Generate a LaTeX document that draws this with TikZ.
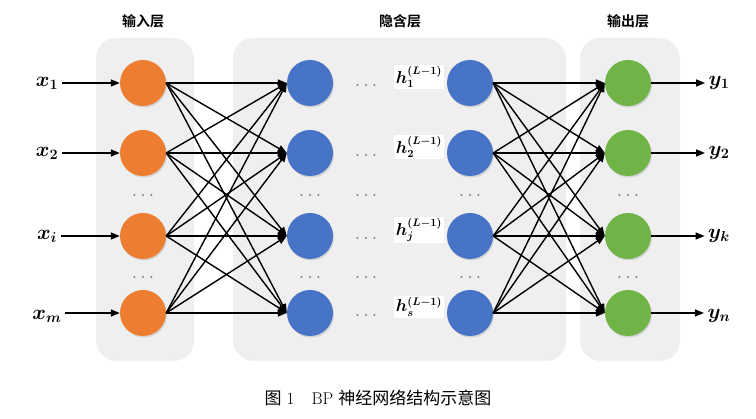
\documentclass[tikz,border=0pt]{standalone}
\usepackage{amsmath, amssymb}
\usepackage{fontspec}
\usepackage{tikz}
\usetikzlibrary{arrows.meta, positioning, shadows}
\newfontfamily\cjkfont{Noto Sans CJK SC}
\newfontfamily\cjkbold{Noto Sans CJK SC Bold}
\definecolor{panelgray}{RGB}{239,239,240}
\definecolor{inorange}{RGB}{237,125,49}
\definecolor{hidblue}{RGB}{72,116,200}
\definecolor{outgreen}{RGB}{112,180,72}
\definecolor{dotgray}{RGB}{105,105,110}

\newcommand{\rowdots}{$\boldsymbol{\cdot}\,\boldsymbol{\cdot}\,\boldsymbol{\cdot}$}

\tikzset{
  panel/.style={fill=panelgray, rounded corners=20pt, draw=none,
    drop shadow={opacity=0.12, shadow xshift=1pt, shadow yshift=-1pt}},
  neuron/.style={circle, minimum size=46pt, inner sep=0pt, draw=none,
    drop shadow={opacity=0.25, shadow xshift=1pt, shadow yshift=-1.5pt}},
  link/.style={-{Triangle[length=9pt, width=7pt]}, line width=1.4pt, black},
  iolabel/.style={font=\fontsize{22}{24}\selectfont},
  hlabel/.style={fill=white, inner sep=1.5pt, font=\fontsize{16}{18}\selectfont},
  layertitle/.style={font=\cjkbold\fontsize{14}{16}\selectfont},
  more/.style={font=\fontsize{12}{14}\selectfont, text=dotgray}
}

\begin{document}
\begin{tikzpicture}[x=1pt, y=-1pt]
  \useasboundingbox (0,0) rectangle (756,419);

  % Layer panels
  \fill[panel] (96,38) rectangle (193,360);
  \fill[panel] (233,38) rectangle (565,360);
  \fill[panel] (580,38) rectangle (679,360);

  % Layer titles
  \node[layertitle] (tin) at (143,21) {输入层};
  \node[layertitle] (thid) at (400,21) {隐含层};
  \node[layertitle] (tout) at (628,21) {输出层};

  % Neurons
  \foreach \n/\y in {1/83, 2/153, 3/236, 4/313} {
    \node[neuron, fill=inorange] (i\n) at (143,\y) {};
    \node[neuron, fill=hidblue] (ha\n) at (310,\y) {};
    \node[neuron, fill=hidblue] (hb\n) at (470,\y) {};
    \node[neuron, fill=outgreen] (o\n) at (628,\y) {};
    \node[more] (m\n) at (366,\y+3) {\rowdots};
  }

  % Ellipsis between rows
  \foreach \y in {196, 278} {
    \node[more] at (143,\y) {\rowdots};
    \node[more] at (310,\y) {\rowdots};
    \node[more] at (366,\y) {\rowdots};
    \node[more] at (470,\y) {\rowdots};
    \node[more] at (628,\y) {\rowdots};
  }

  % Hidden unit labels
  \node[hlabel, left=3pt of hb1.west, yshift=6pt] (h1) {$\boldsymbol{h_1^{(L-1)}}$};
  \node[hlabel, left=3pt of hb2.west, yshift=6pt] (h2) {$\boldsymbol{h_2^{(L-1)}}$};
  \node[hlabel, left=3pt of hb3.west, yshift=6pt] (h3) {$\boldsymbol{h_j^{(L-1)}}$};
  \node[hlabel, left=3pt of hb4.west, yshift=6pt] (h4) {$\boldsymbol{h_s^{(L-1)}}$};

  % Inputs and outputs
  \node[iolabel] (x1) at (47,83) {$\boldsymbol{x_1}$};
  \node[iolabel] (x2) at (47,153) {$\boldsymbol{x_2}$};
  \node[iolabel] (x3) at (47,236) {$\boldsymbol{x_i}$};
  \node[iolabel] (x4) at (47,316) {$\boldsymbol{x_m}$};
  \node[iolabel] (y1) at (719,83) {$\boldsymbol{y_1}$};
  \node[iolabel] (y2) at (719,153) {$\boldsymbol{y_2}$};
  \node[iolabel] (y3) at (719,236) {$\boldsymbol{y_k}$};
  \node[iolabel] (y4) at (719,316) {$\boldsymbol{y_n}$};

  \foreach \n in {1,...,4} {
    \draw[link] (x\n.east |- i\n.west) -- (i\n.west);
    \draw[link] (o\n.east) -- (y\n.west |- o\n.east);
  }

  % Full connections
  \foreach \a in {1,...,4} {
    \foreach \b in {1,...,4} {
      \draw[link] (i\a.east) -- (ha\b.west);
      \draw[link] (hb\a.east) -- (o\b.west);
    }
  }

  % Caption
  \node[font=\fontsize{17}{19}\selectfont] (cap) at (378,398) {{\cjkfont 图}~1\quad BP~{\cjkfont 神经网络结构示意图}};
\end{tikzpicture}
\end{document}
